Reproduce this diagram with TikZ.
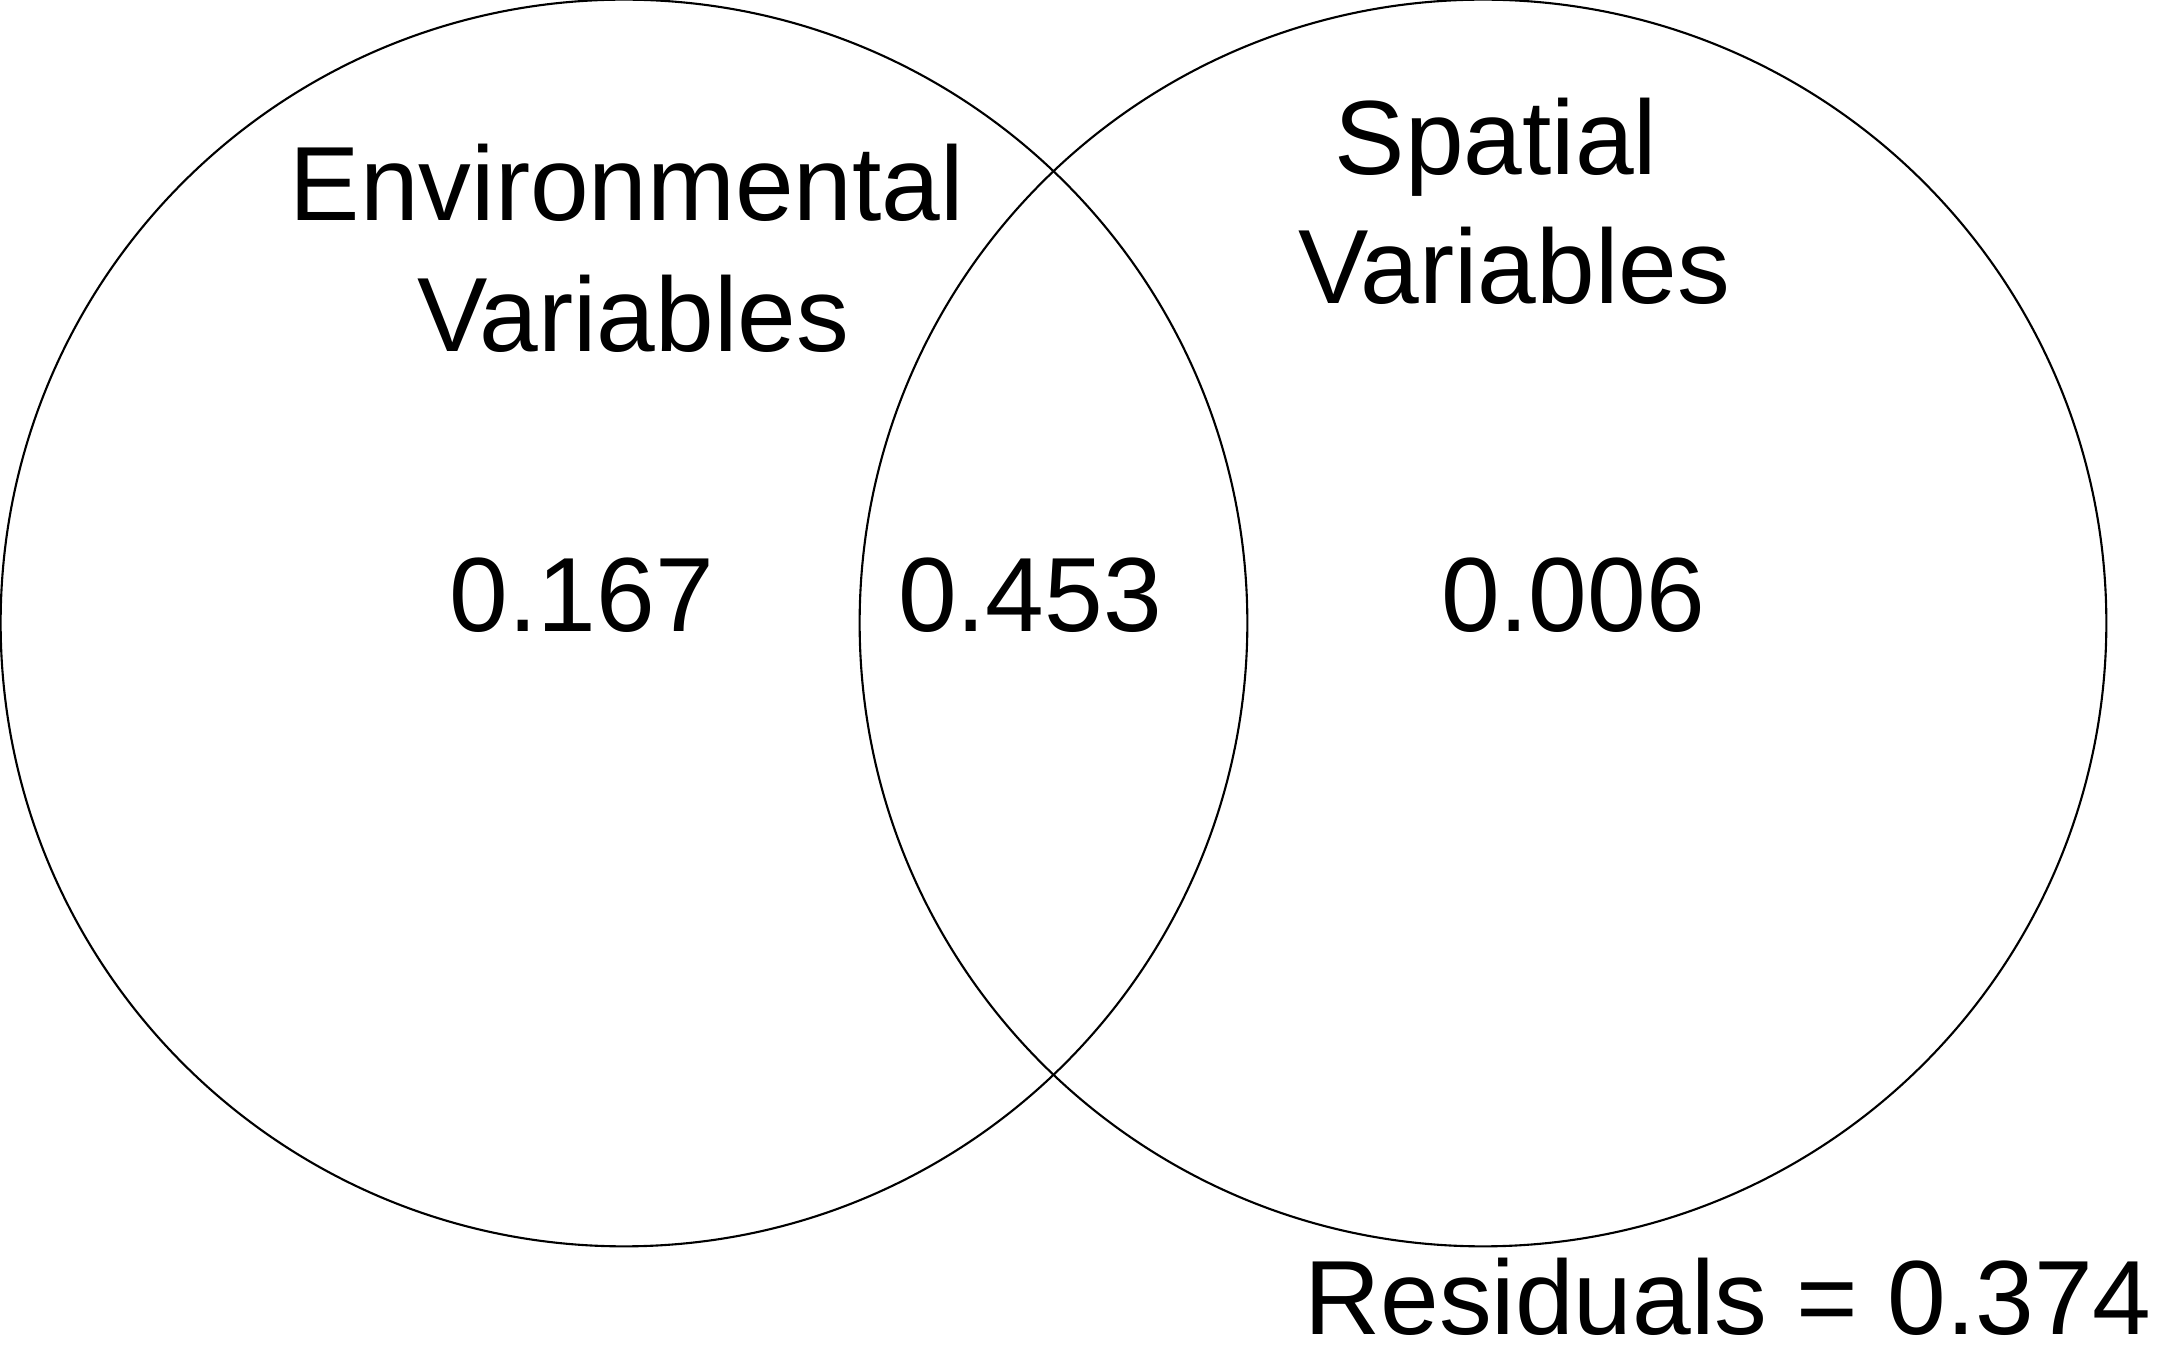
\documentclass[tikz,border=0pt]{standalone}
\usepackage{fontspec}
\setmainfont{Liberation Sans}
\usetikzlibrary{positioning}
\tikzset{
	venn/.style={circle, draw=black, line width=0.6pt, inner sep=0pt, minimum size=12.46cm},
	setname/.style={anchor=base, inner sep=0pt, font=\fontsize{30}{36}\selectfont},
	share/.style={anchor=base, inner sep=0pt, font=\fontsize{30}{36}\selectfont},
}

\begin{document}
\begin{tikzpicture}[x=0.01cm, y=-0.01cm]
		\path[use as bounding box, fill=white] (0,0) rectangle (2165,1358);
		\node[venn] (env) at (624,623) {};
		\node[venn] (spat) at (1483,623) {};
		\node[setname] (envname) at (627,221) {Environmental};
		\node[setname] (envvar) at (633,352) {Variables};
		\node[setname] (spatname) at (1496,175) {Spatial};
		\node[setname] (spatvar) at (1514,304) {Variables};
		\node[share] (envonly) at (582,632) {0.167};
		\node[share] (both) at (1030,632) {0.453};
		\node[share] (spatonly) at (1573,632) {0.006};
		\node[share] (resid) at (1728,1334) {Residuals = 0.374};
	\end{tikzpicture}
\end{document}
